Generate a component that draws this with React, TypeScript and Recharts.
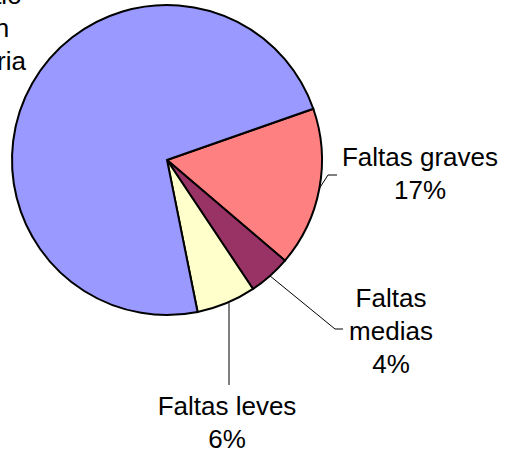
import React from "react";
import { PieChart, Pie, Cell } from "recharts";

const categories = ["Faltas graves", "Faltas medias", "Faltas leves", "Se desistió la acción disciplinaria"];
const shares = [16.6, 4.4, 6.2, 72.8];
const colors = ["#FF8080", "#993366", "#FFFFCC", "#9999FF"];
const labelLines = [
  ["Faltas graves"],
  ["Faltas", "medias"],
  ["Faltas leves"],
  ["Se desistió", "la acción", "disciplinaria"],
];

const data = categories.map((name, i) => ({ name, value: shares[i] }));

const FONT = "'Liberation Sans', Arial, sans-serif";
const FS = 26;
const LH = 33;

// label layout: text center x, first baseline y, leader elbow/end points
const layout = [
  { x: 420, y: 166, leader: [[328, 175], [337, 175]] },
  { x: 391, y: 307, leader: [[335, 329], [343, 329]] },
  { x: 227, y: 415, leader: [[229, 385]] },
  { x: -42, y: 4, leader: null as null | number[][] },
];

const RAD = Math.PI / 180;

const renderLabel = (props: any) => {
  const { cx, cy, midAngle, outerRadius, index, percent } = props;
  const L = layout[index];
  const lines = [...labelLines[index], `${Math.round(percent * 100)}%`];
  const ex = cx + outerRadius * Math.cos(-midAngle * RAD);
  const ey = cy + outerRadius * Math.sin(-midAngle * RAD);
  let pts = "";
  if (L.leader) {
    const sx = index === 2 ? L.leader[0][0] : ex;
    pts = [[sx, ey], ...L.leader].map((p) => p.join(",")).join(" ");
  }
  return (
    <g key={`lbl-${index}`}>
      {L.leader && <polyline points={pts} fill="none" stroke="#000" strokeWidth={1} />}
      <text x={L.x} y={L.y} textAnchor="middle" fontFamily={FONT} fontSize={FS} fill="#000">
        {lines.map((t, i) => (
          <tspan key={i} x={L.x} y={L.y + i * LH}>
            {t}
          </tspan>
        ))}
      </text>
    </g>
  );
};

export default function App() {
  return (
    <div style={{ position: "absolute", left: 0, top: 0, width: 510, height: 455, background: "#fff" }}>
      <PieChart width={510} height={455} margin={{ top: 0, right: 0, bottom: 0, left: 0 }}>
        <Pie
          data={data}
          dataKey="value"
          nameKey="name"
          cx={167}
          cy={160}
          outerRadius={155}
          startAngle={19.3}
          endAngle={19.3 - 360}
          stroke="#000"
          strokeWidth={2}
          label={renderLabel}
          labelLine={false}
          isAnimationActive={false}
        >
          {data.map((d, i) => (
            <Cell key={d.name} fill={colors[i]} />
          ))}
        </Pie>
      </PieChart>
    </div>
  );
}
